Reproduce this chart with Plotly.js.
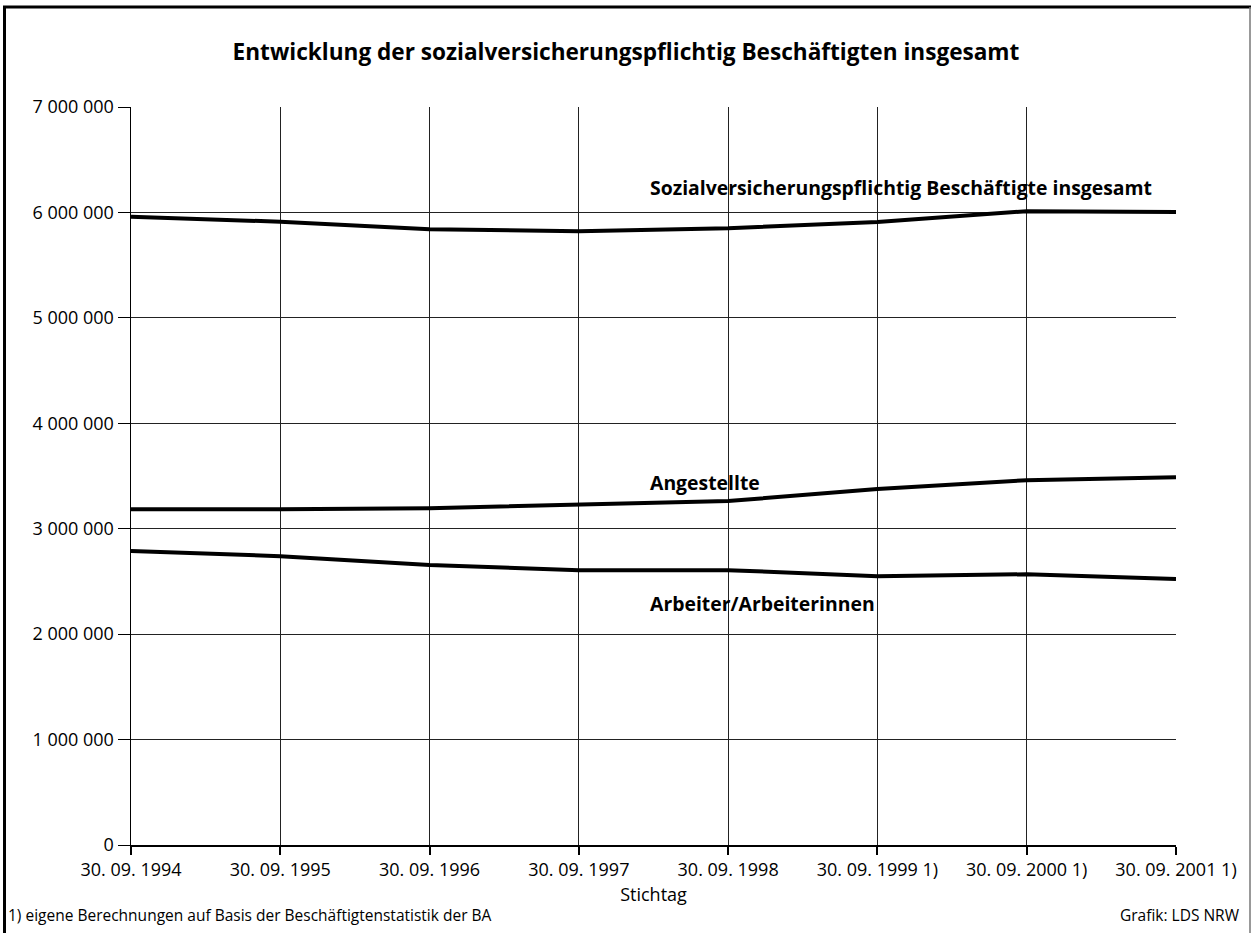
<!DOCTYPE html>
<html>
<head>
<meta charset="utf-8">
<script src="https://cdn.plot.ly/plotly-3.0.1.min.js"></script>
<style>html,body{margin:0;padding:0;background:#fff;}#chart{width:1252px;height:933px;}</style>
</head>
<body>
<div id="chart"></div>
<script>
const categories = ["30. 09. 1994","30. 09. 1995","30. 09. 1996","30. 09. 1997","30. 09. 1998","30. 09. 1999 1)","30. 09. 2000 1)","30. 09. 2001 1)"];
const insgesamt = [5960000, 5912000, 5840000, 5822000, 5850000, 5910000, 6012000, 6003000];
const angestellte = [3185000, 3185000, 3195000, 3224000, 3262000, 3376000, 3460000, 3488000];
const arbeiter = [2788000, 2740000, 2656000, 2607000, 2607000, 2550000, 2568000, 2522000];
const yTickVals = [0, 1000000, 2000000, 3000000, 4000000, 5000000, 6000000, 7000000];
const yTickText = ["0", "1 000 000", "2 000 000", "3 000 000", "4 000 000", "5 000 000", "6 000 000", "7 000 000"];
const seriesNames = ["Sozialversicherungspflichtig Beschäftigte insgesamt", "Angestellte", "Arbeiter/Arbeiterinnen"];

const FONT = "Open Sans, Noto Sans, DejaVu Sans, sans-serif";
const xIdx = categories.map((c, i) => i);

function line(y, name) {
  return {x: xIdx, y: y, name: name, type: 'scatter', mode: 'lines',
    line: {color: '#000', width: 4}, hoverinfo: 'skip'};
}

const data = [
  line(insgesamt, seriesNames[0]),
  line(angestellte, seriesNames[1]),
  line(arbeiter, seriesNames[2])
];

const layout = {
  width: 1252, height: 933,
  margin: {l: 131, r: 76, t: 107, b: 88},
  paper_bgcolor: '#fff', plot_bgcolor: '#fff',
  showlegend: false,
  font: {family: FONT, color: '#000', size: 18},
  title: {text: '<b>Entwicklung der sozialversicherungspflichtig Beschäftigten insgesamt</b>',
    x: 0.5, xref: 'container', xanchor: 'center', y: 0.944, yanchor: 'middle',
    font: {family: FONT, size: 22.6, color: '#000'}},
  xaxis: {
    range: [0, categories.length - 1],
    tickmode: 'array', tickvals: xIdx, ticktext: categories,
    showgrid: true, gridcolor: '#222', gridwidth: 1,
    showline: true, linecolor: '#000', linewidth: 1.5,
    ticks: 'outside', ticklen: 8, tickwidth: 2, tickcolor: '#000',
    zeroline: false, fixedrange: true,
    tickfont: {family: FONT, size: 18},
    title: {text: 'Stichtag', font: {family: FONT, size: 18}, standoff: 8}
  },
  yaxis: {
    range: [0, 7000000],
    tickmode: 'array', tickvals: yTickVals, ticktext: yTickText,
    showgrid: true, gridcolor: '#222', gridwidth: 1,
    showline: true, linecolor: '#000', linewidth: 1.5,
    ticks: 'outside', ticklen: 12, tickwidth: 1, tickcolor: '#000',
    zeroline: false, fixedrange: true,
    tickfont: {family: FONT, size: 18}
  },
  annotations: [
    {x: 3.46, y: 6241000, xref: 'x', yref: 'y', xanchor: 'left', yanchor: 'middle', showarrow: false,
      text: '<b>' + seriesNames[0] + '</b>', font: {family: FONT, size: 19.4, color: '#000'}},
    {x: 3.46, y: 3434000, xref: 'x', yref: 'y', xanchor: 'left', yanchor: 'middle', showarrow: false,
      text: '<b>' + seriesNames[1] + '</b>', font: {family: FONT, size: 19.4, color: '#000'}},
    {x: 3.46, y: 2295000, xref: 'x', yref: 'y', xanchor: 'left', yanchor: 'middle', showarrow: false,
      text: '<b>' + seriesNames[2] + '</b>', font: {family: FONT, size: 19.4, color: '#000'}}
  ],
  shapes: []
};

// convert page pixel to paper coords
const pl = 131, pw = 1252 - 131 - 76, pt = 107, ph = 933 - 107 - 88;
const px = v => (v - pl) / pw;
const py = v => (pt + ph - v) / ph;
layout.annotations.push(
  {x: px(6), y: py(915), xref: 'paper', yref: 'paper', showarrow: false,
    xanchor: 'left', yanchor: 'middle',
    text: '1) eigene Berechnungen auf Basis der Beschäftigtenstatistik der BA',
    font: {family: FONT, size: 15.5, color: '#000'}},
  {x: px(1242), y: py(915), xref: 'paper', yref: 'paper', showarrow: false,
    xanchor: 'right', yanchor: 'middle', text: 'Grafik: LDS NRW', font: {family: FONT, size: 15.5, color: '#000'}}
);
layout.shapes.push(
  {type: 'line', xref: 'paper', yref: 'paper', x0: px(3), x1: px(1251), y0: py(7), y1: py(7), line: {color: '#000', width: 3}},
  {type: 'line', xref: 'paper', yref: 'paper', x0: px(4.5), x1: px(4.5), y0: py(6), y1: py(940), line: {color: '#000', width: 3}},
  {type: 'line', xref: 'paper', yref: 'paper', x0: px(1250), x1: px(1250), y0: py(7), y1: py(940), line: {color: '#777', width: 1.5}}
);

Plotly.newPlot('chart', data, layout, {displayModeBar: false, staticPlot: true});
</script>
</body>
</html>
